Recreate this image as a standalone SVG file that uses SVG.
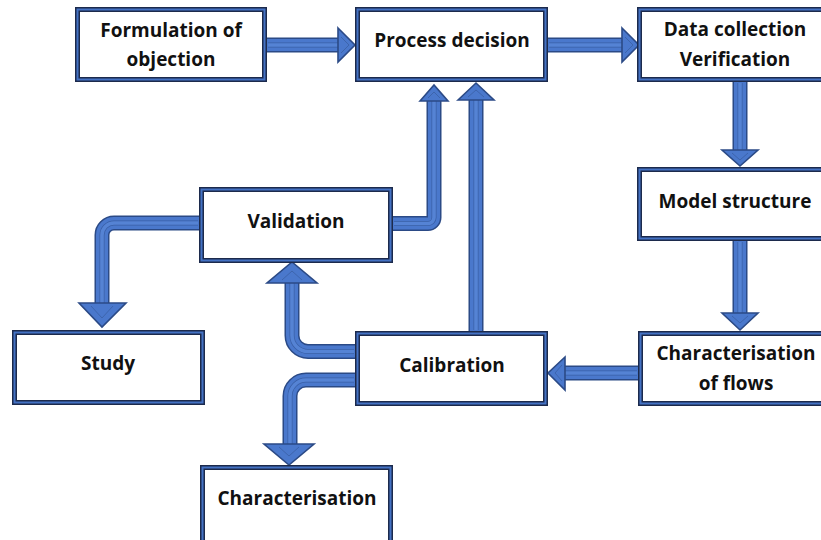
<svg xmlns="http://www.w3.org/2000/svg" width="821" height="540" viewBox="0 0 821 540">
<style>
.bx1{fill:#ffffff;stroke:#1c2a4c;stroke-width:5}
.bx2{fill:none;stroke:#4472C4;stroke-width:2}
.t{font-family:"Open Sans","Noto Sans","DejaVu Sans",sans-serif;font-weight:bold;font-size:19px;fill:#111;text-anchor:middle}
.so{fill:none;stroke:#2b4a86;stroke-width:15}
.sf{fill:none;stroke:#4a78cc;stroke-width:12}
.si{fill:none;stroke:#35599c;stroke-width:5;opacity:0.8}
.sj{fill:none;stroke:#5583d4;stroke-width:3.6}
.hd{fill:#4a78cc;stroke:#2b4a86;stroke-width:1.6;stroke-linejoin:miter}
.hi{fill:none;stroke:#35599c;stroke-width:0.8;opacity:0.8}
</style>
<g id="connectors">
  <g id="c1">
    <path class="so" d="M266 45 H340"/><path class="sf" d="M266 45 H340"/><path class="si" d="M268 45 H340"/><path class="sj" d="M268 45 H341"/>
    <polygon class="hd" points="338,28 355,45 338,62"/><polyline class="hi" points="341,37 349,45 341,53"/>
  </g>
  <g id="c2">
    <path class="so" d="M547 45 H624"/><path class="sf" d="M547 45 H624"/><path class="si" d="M549 45 H624"/><path class="sj" d="M549 45 H625"/>
    <polygon class="hd" points="622,28 639,45 622,62"/><polyline class="hi" points="625,37 633,45 625,53"/>
  </g>
  <g id="c3">
    <path class="so" d="M740 81 V152"/><path class="sf" d="M740 81 V152"/><path class="si" d="M740 83 V152"/><path class="sj" d="M740 83 V153"/>
    <polygon class="hd" points="722,150 758,150 740,166"/><polyline class="hi" points="732,153 740,160 748,153"/>
  </g>
  <g id="c4">
    <path class="so" d="M740 240 V315"/><path class="sf" d="M740 240 V315"/><path class="si" d="M740 242 V315"/><path class="sj" d="M740 242 V316"/>
    <polygon class="hd" points="722,313 758,313 740,330"/><polyline class="hi" points="732,316 740,323 748,316"/>
  </g>
  <g id="c5">
    <path class="so" d="M639 373 H563"/><path class="sf" d="M639 373 H563"/><path class="si" d="M637 373 H563"/><path class="sj" d="M637 373 H562"/>
    <polygon class="hd" points="565,357 548,373 565,390"/><polyline class="hi" points="562,365 555,373 562,381"/>
  </g>
  <g id="c6">
    <path class="so" d="M476 332 V98"/><path class="sf" d="M476 332 V98"/><path class="si" d="M476 330 V98"/><path class="sj" d="M476 330 V97"/>
    <polygon class="hd" points="458,100 476,83 494,100"/><polyline class="hi" points="468,97 476,90 484,97"/>
  </g>
  <g id="c7">
    <path class="so" d="M392 223.5 H428 A6 6 0 0 0 434 217.5 V99"/><path class="sf" d="M392 223.5 H428 A6 6 0 0 0 434 217.5 V99"/><path class="si" d="M394 223.5 H428 A6 6 0 0 0 434 217.5 V99"/><path class="sj" d="M394 223.5 H428 A6 6 0 0 0 434 217.5 V98"/>
    <polygon class="hd" points="420,101 434,85 448,101"/><polyline class="hi" points="428,98 434,92 440,98"/>
  </g>
  <g id="c8">
    <path class="so" d="M200 223 H114 A12 12 0 0 0 102 235 V305"/><path class="sf" d="M200 223 H114 A12 12 0 0 0 102 235 V305"/><path class="si" d="M198 223 H114 A12 12 0 0 0 102 235 V305"/><path class="sj" d="M198 223 H114 A12 12 0 0 0 102 235 V306"/>
    <polygon class="hd" points="79,303 126,303 102,327"/><polyline class="hi" points="91,306 102,318 113,306"/>
  </g>
  <g id="c9">
    <path class="so" d="M356 351.5 H308 A16 16 0 0 1 292 335.5 V282"/><path class="sf" d="M356 351.5 H308 A16 16 0 0 1 292 335.5 V282"/><path class="si" d="M354 351.5 H308 A16 16 0 0 1 292 335.5 V282"/><path class="sj" d="M354 351.5 H308 A16 16 0 0 1 292 335.5 V281"/>
    <polygon class="hd" points="267,283 317,283 292,262"/><polyline class="hi" points="282,280 292,271 302,280"/>
  </g>
  <g id="c10">
    <path class="so" d="M356 380 H306 A16 16 0 0 0 290 396 V446"/><path class="sf" d="M356 380 H306 A16 16 0 0 0 290 396 V446"/><path class="si" d="M354 380 H306 A16 16 0 0 0 290 396 V446"/><path class="sj" d="M354 380 H306 A16 16 0 0 0 290 396 V447"/>
    <polygon class="hd" points="264,444 314,444 289,465"/><polyline class="hi" points="279,447 289,456 299,447"/>
  </g>
</g>
<g id="n1"><rect class="bx1" x="77.5" y="9.5" width="187" height="70"/><rect class="bx2" x="77.5" y="9.5" width="187" height="70"/>
  <text class="t" x="171" y="37">Formulation of</text><text class="t" x="171" y="66">objection</text></g>
<g id="n2"><rect class="bx1" x="357.5" y="9.5" width="188" height="70"/><rect class="bx2" x="357.5" y="9.5" width="188" height="70"/>
  <text class="t" x="452" y="47">Process decision</text></g>
<g id="n3"><rect class="bx1" x="639.5" y="9.5" width="190" height="70"/><rect class="bx2" x="639.5" y="9.5" width="190" height="70"/>
  <text class="t" x="735" y="36">Data collection</text><text class="t" x="735" y="66">Verification</text></g>
<g id="n4"><rect class="bx1" x="639.5" y="169.5" width="190" height="69"/><rect class="bx2" x="639.5" y="169.5" width="190" height="69"/>
  <text class="t" x="735" y="208">Model structure</text></g>
<g id="n5"><rect class="bx1" x="640.5" y="333.5" width="190" height="70"/><rect class="bx2" x="640.5" y="333.5" width="190" height="70"/>
  <text class="t" x="736" y="360">Characterisation</text><text class="t" x="736" y="390">of flows</text></g>
<g id="n6"><rect class="bx1" x="357.5" y="333.5" width="188" height="70"/><rect class="bx2" x="357.5" y="333.5" width="188" height="70"/>
  <text class="t" x="452" y="372">Calibration</text></g>
<g id="n7"><rect class="bx1" x="201.5" y="189.5" width="189" height="71"/><rect class="bx2" x="201.5" y="189.5" width="189" height="71"/>
  <text class="t" x="296" y="228">Validation</text></g>
<g id="n8"><rect class="bx1" x="14.5" y="332.5" width="188" height="70"/><rect class="bx2" x="14.5" y="332.5" width="188" height="70"/>
  <text class="t" x="108" y="370">Study</text></g>
<g id="n9"><rect class="bx1" x="202.5" y="467.5" width="188" height="80"/><rect class="bx2" x="202.5" y="467.5" width="188" height="80"/>
  <text class="t" x="297" y="505">Characterisation</text></g>
</svg>
